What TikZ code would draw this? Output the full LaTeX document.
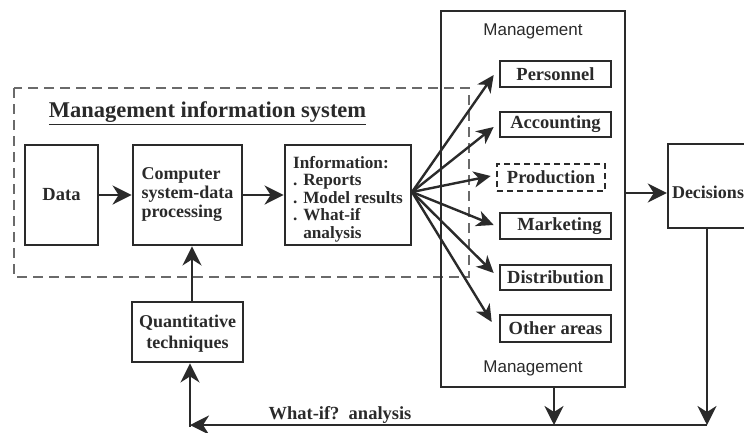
\documentclass[tikz,border=0pt]{standalone}
\usepackage{fontspec}
\setmainfont{Liberation Serif}
\newfontfamily\mgfont{Liberation Sans}
\usetikzlibrary{arrows.meta,calc}
\definecolor{ink}{HTML}{2A2A2A}
\definecolor{frameclr}{HTML}{6A6A6A}
\tikzset{
  box/.style={draw=ink, line width=2.8pt, text=ink, font=\fontsize{18.5}{19}\selectfont\bfseries, inner sep=2pt},
  subbox/.style={draw=ink, line width=2.6pt, text=ink, font=\fontsize{18.5}{19}\selectfont\bfseries, minimum width=111pt, inner sep=1pt},
  arr/.style={draw=ink, line width=2.8pt, -{Stealth[length=19pt,width=19pt,inset=6pt]}},
  fan/.style={draw=ink, line width=2.4pt, -{Stealth[length=17pt,width=16pt,inset=5pt]}},
  mglabel/.style={text=ink, font=\fontsize{17}{17}\mgfont\selectfont},
}
\begin{document}
\begin{tikzpicture}[x=1pt,y=-1pt]
\useasboundingbox (0,0) rectangle (744,432);
% dashed MIS frame
\draw[draw=frameclr, line width=1.3pt, dash pattern=on 10pt off 6pt] (14,88) rectangle (469,277);
\node[text=ink, font=\fontsize{22.5}{23}\selectfont\bfseries] (title) at (207.5,113) {\underline{Management information system}};
% left chain
\node[box, minimum width=73pt, minimum height=100pt] (data) at (61.5,195) {Data};
\node[box, minimum width=109pt, minimum height=100pt, align=left, font=\fontsize{18}{19}\selectfont\bfseries] (comp) at (187.5,195) {Computer\\system-data\\processing};
\node[box, minimum width=126pt, minimum height=100pt, align=left, font=\fontsize{17.2}{17.5}\selectfont\bfseries] (info) at (348,195) {\rule{0pt}{20pt}Information:\\. Reports\\. Model results\\. What-if\\\phantom{. }analysis};
\node[box, minimum width=111pt, minimum height=60pt, align=center, font=\fontsize{18}{21}\selectfont\bfseries] (quant) at (187.5,332) {\rule{0pt}{16pt}Quantitative\\techniques};
% management
\node[draw=ink, line width=2.2pt, minimum width=184pt, minimum height=376pt] (mgmt) at (533,199) {};
\node[mglabel] (mtop) at (533,31) {Management};
\node[mglabel] (mbot) at (533,368) {Management};
\node[subbox, minimum height=26pt] (pers) at (555.5,74) {Personnel};
\node[subbox, minimum height=25pt] (acc) at (555.5,124.5) {Accounting};
\node[subbox, minimum height=27pt, minimum width=108pt, dash pattern=on 6pt off 4pt] (prod) at (551,177.5) {Production};
\node[subbox, minimum height=26pt] (mkt) at (555.5,226) {\hspace{8pt}Marketing};
\node[subbox, minimum height=25pt] (dist) at (555.5,277.5) {Distribution};
\node[subbox, minimum height=27pt] (oth) at (555.5,328.5) {Other areas};
% decisions
\node[draw=ink, line width=2.4pt, minimum width=132pt, minimum height=84pt, text width=124pt, align=left, inner xsep=3pt, text=ink, font=\fontsize{18}{19}\selectfont\bfseries] (dec) at (734,186) {\rule{0pt}{25pt}Decisions};
% arrows
\draw[arr] (data.east) -- (comp.west);
\draw[arr] (comp.east) -- (info.west);
\coordinate (fo) at (412,192);
\draw[fan] (fo) -- ($(pers.west)+(-5,1)$);
\draw[fan] (fo) -- ($(acc.west)+(-5,2.5)$);
\draw[fan] (fo) -- ($(prod.west)+(-5,-1.5)$);
\draw[fan] (fo) -- ($(mkt.west)+(-5,-1)$);
\draw[fan] (fo) -- ($(dist.west)+(-5,-4.5)$);
\draw[fan] (fo) -- ($(oth.west)+(-7,-6.5)$);
\coordinate (dy) at (0,193);
\draw[arr] (mgmt.east |- dy) -- (dec.west |- dy);
\coordinate (dd) at (707,425);
\coordinate (md) at (554,425);
\coordinate (bl) at (190,425);
\coordinate (ux) at (192,0);
\draw[arr] (dd |- dec.south) -- (dd);
\draw[arr] (md |- mgmt.south) -- (md);
\draw[arr] (dd) -- (bl);
\draw[arr] ($(bl)+(0,2)$) -- (bl |- quant.south);
\draw[arr] (ux |- quant.north) -- (ux |- comp.south);
\node[text=ink, font=\fontsize{18.5}{19}\selectfont\bfseries] (wif) at (340,415) {What-if?\ \ analysis};
\end{tikzpicture}
\end{document}
